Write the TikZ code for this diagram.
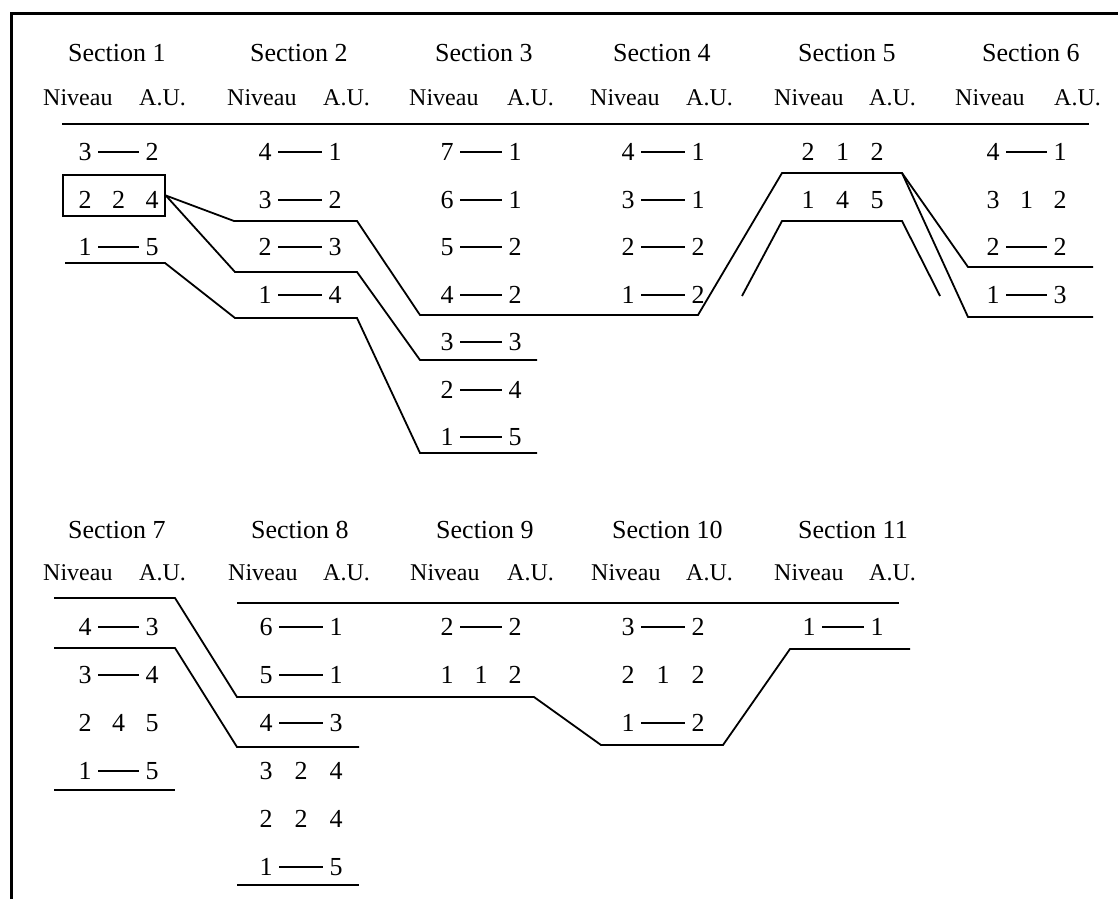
\documentclass[tikz,border=0pt]{standalone}
\usepackage{fontspec}
\setmainfont{Liberation Serif}
\usepackage{tikz}

\begin{document}
\begin{tikzpicture}[x=1pt, y=-1pt,
    sec/.style={anchor=west, inner sep=0pt, font=\fontsize{26}{30}\selectfont},
    sub/.style={anchor=west, inner sep=0pt, font=\fontsize{24}{28}\selectfont},
    num/.style={inner sep=6.5pt, font=\fontsize{26}{30}\selectfont},
    bar/.style={line width=1.5pt},
    trace/.style={line width=1.8pt, line join=miter}]
    \useasboundingbox (0,0) rectangle (1118,899);

    % 外框
    \draw[line width=3pt] (11,899) -- (11,14) -- (1118,14);

    % 标题与表头
    \foreach \i/\xt/\xn/\xa/\yt/\ys in {1/68/43/139/53/98, 2/250/227/323/53/98,
        3/435/409/507/53/98, 4/613/590/686/53/98, 5/798/774/869/53/98,
        6/982/955/1054/53/98, 7/68/43/139/530/573, 8/251/228/323/530/573,
        9/436/410/507/530/573, 10/612/591/686/530/573, 11/798/774/869/530/573}{
      \node[sec] (sec\i) at (\xt,\yt) {Section \i};
      \node[sub] (niv\i) at (\xn,\ys) {Niveau};
      \node[sub] (au\i) at (\xa,\ys) {A.U.};
    }

    % 表头下的横线
    \draw[trace] (62,124) -- (1089,124);
    \draw[trace] (237,603) -- (899,603);

    % 各列数字的横坐标
    \def\xl{{85,265,447,628,808,993,85,266,447,628,809}}
    \def\xr{{152,335,515,698,877,1060,152,336,515,698,877}}

    % 数字对 (带短横)
    \foreach \c/\r/\a/\b in {1/1/3/2, 1/3/1/5,
        2/1/4/1, 2/2/3/2, 2/3/2/3, 2/4/1/4,
        3/1/7/1, 3/2/6/1, 3/3/5/2, 3/4/4/2, 3/5/3/3, 3/6/2/4, 3/7/1/5,
        4/1/4/1, 4/2/3/1, 4/3/2/2, 4/4/1/2,
        6/1/4/1, 6/3/2/2, 6/4/1/3,
        7/1/4/3, 7/2/3/4, 7/4/1/5,
        8/1/6/1, 8/2/5/1, 8/3/4/3, 8/6/1/5,
        9/1/2/2, 10/1/3/2, 10/3/1/2, 11/1/1/1}{
      \pgfmathsetmacro\xa{\xl[\c-1]}
      \pgfmathsetmacro\xb{\xr[\c-1]}
      \pgfmathsetmacro\yy{round(\c<7 ? 152+47.5*(\r-1) : 627+48*(\r-1))}
      \node[num] (p\c-\r l) at (\xa,\yy) {\a};
      \node[num] (p\c-\r r) at (\xb,\yy) {\b};
      \draw[bar] (p\c-\r l) -- (p\c-\r r);
    }

    % 三个数字的行
    \foreach \c/\r/\a/\b/\d in {1/2/2/2/4, 5/1/2/1/2, 5/2/1/4/5, 6/2/3/1/2,
        7/3/2/4/5, 8/4/3/2/4, 8/5/2/2/4, 9/2/1/1/2, 10/2/2/1/2}{
      \pgfmathsetmacro\xa{\xl[\c-1]}
      \pgfmathsetmacro\xb{\xr[\c-1]}
      \pgfmathsetmacro\yy{round(\c<7 ? 152+47.5*(\r-1) : 627+48*(\r-1))}
      \node[num] (t\c-\r l) at (\xa,\yy) {\a};
      \node[num] (t\c-\r m) at ({(\xa+\xb)/2},\yy) {\b};
      \node[num] (t\c-\r r) at (\xb,\yy) {\d};
    }

    % 方框
    \node[draw, line width=1.6pt, minimum width=102pt, minimum height=41pt] (box) at (114,195.5) {};

    % 上半部分的折线
    \coordinate (top5) at (902,173);
    \draw[trace] (box.east) -- (234,221) -- (357,221) -- (420,315) -- (698,315)
      -- (782,173) -- (top5) -- (968,267) -- (1093,267);
    \draw[trace] (top5) -- (968,317) -- (1093,317);
    \draw[trace] (box.east) -- (235,272) -- (357,272) -- (420,360) -- (537,360);
    \draw[trace] (65,263) -- (165,263) -- (235,318) -- (357,318) -- (420,453) -- (537,453);
    \draw[trace] (742,296) -- (782,221) -- (902,221) -- (940,296);

    % 下半部分的折线
    \draw[trace] (54,598) -- (175,598) -- (237,697) -- (534,697) -- (601,745)
      -- (723,745) -- (790,649) -- (910,649);
    \draw[trace] (54,648) -- (175,648) -- (237,747) -- (359,747);
    \draw[trace] (54,790) -- (175,790);
    \draw[trace] (237,885) -- (359,885);
  \end{tikzpicture}
\end{document}
